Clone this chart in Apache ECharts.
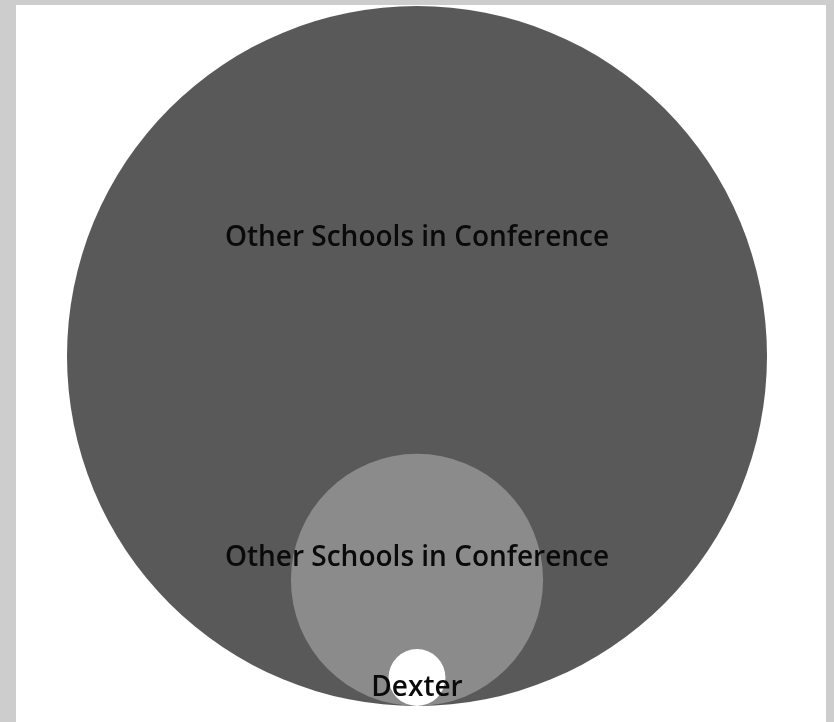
<!DOCTYPE html>
<html>
<head>
<meta charset="utf-8">
<script src="https://cdn.jsdelivr.net/npm/echarts@6/dist/echarts.min.js"></script>
<style>
html,body{margin:0;padding:0;background:#cdcdcd;}
#chart{width:834px;height:722px;}
</style>
</head>
<body>
<div id="chart"></div>
<script>
// Data (relative areas of the nested circles)
var names = ['Other Schools in Conference', 'Other Schools in Conference', 'Dexter'];
var values = [122500, 15900, 810];

// Styling / layout config (not data)
var fills = ['#595959', '#8b8b8b', '#ffffff'];
var labelDy = [-118, -22, 10];

var chart = echarts.init(document.getElementById('chart'), null, {renderer: 'canvas'});

var seriesData = names.map(function (n, i) {
  return {name: n, value: [i, values[i]]};
});

chart.setOption({
  backgroundColor: '#cdcdcd',
  animation: false,
  graphic: [{
    type: 'rect',
    z: -10,
    shape: {x: 16, y: 5, width: 810, height: 717},
    style: {fill: '#ffffff'}
  }],
  grid: {left: 0, right: 0, top: 0, bottom: 0},
  xAxis: {type: 'value', min: -417, max: 417, show: false},
  yAxis: {type: 'value', min: -16, max: 706, show: false},
  series: [{
    type: 'custom',
    data: seriesData,
    renderItem: function (params, api) {
      var idx = api.value(0);
      var r = Math.sqrt(api.value(1));
      var c = api.coord([0, r]);
      var sz = api.size([r, r]);
      var rp = sz[0];
      return {
        type: 'group',
        children: [{
          type: 'circle',
          shape: {cx: c[0], cy: c[1], r: rp},
          style: {fill: fills[idx]},
          z2: idx * 2
        }, {
          type: 'text',
          z2: 100 + idx,
          style: {
            text: names[idx],
            x: c[0],
            y: c[1] + labelDy[idx],
            textAlign: 'center',
            textVerticalAlign: 'middle',
            font: '600 28px "Open Sans"',
            fill: '#0a0a0a'
          }
        }]
      };
    }
  }]
});
</script>
</body>
</html>
